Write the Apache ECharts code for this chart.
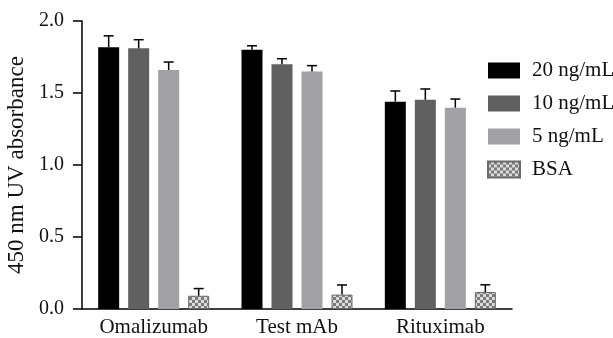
<!DOCTYPE html>
<html><head><meta charset="utf-8">
<script src="https://cdn.jsdelivr.net/npm/echarts@6/dist/echarts.min.js"></script>
<style>html,body{margin:0;padding:0;background:#fff}#c{width:613px;height:338px}</style>
</head><body><div id="c"></div>
<script>
var categories = ['Omalizumab', 'Test mAb', 'Rituximab'];
var seriesNames = ['20 ng/mL', '10 ng/mL', '5 ng/mL', 'BSA'];
var v20 = [1.817, 1.80, 1.44];
var v10 = [1.81, 1.70, 1.453];
var v5 = [1.66, 1.65, 1.398];
var vBSA = [0.092, 0.10, 0.118];
var e20 = [0.08, 0.028, 0.074];
var e10 = [0.06, 0.038, 0.075];
var e5 = [0.055, 0.04, 0.06];
var eBSA = [0.05, 0.067, 0.05];
var yTicks = [0, 0.5, 1.0, 1.5, 2.0];

var values = [v20, v10, v5, vBSA];
var errors = [e20, e10, e5, eBSA];

var pc = document.createElement('canvas');
pc.width = 6; pc.height = 6;
var ctx = pc.getContext('2d');
ctx.fillStyle = '#dcdcdc'; ctx.fillRect(0,0,6,6);
ctx.fillStyle = '#7a7a7a'; ctx.fillRect(0,0,3,3); ctx.fillRect(3,3,3,3);

var colors = ['#000000', '#606060', '#a2a2a6', {image: pc, repeat: 'repeat'}];
var FONT = '"Liberation Serif", "DejaVu Serif", serif';
var BW = 21, GAP = 9;

var chart = echarts.init(document.getElementById('c'));
var series = [];
values.forEach(function (vals, i) {
  series.push({
    name: seriesNames[i], type: 'bar', data: vals,
    barWidth: BW, barGap: (GAP / BW * 100) + '%',
    itemStyle: {color: colors[i], borderColor: i === 3 ? '#6a6a6a' : 'transparent', borderWidth: i === 3 ? 1 : 0},
    z: 2
  });
});
values.forEach(function (vals, i) {
  var off = (i - 1.5) * (BW + GAP);
  series.push({
    type: 'custom', name: seriesNames[i] + ' err', z: 3,
    data: vals.map(function (v, k) { return [k, v, v + errors[i][k]]; }),
    renderItem: function (params, api) {
      var p0 = api.coord([api.value(0), api.value(1)]);
      var p1 = api.coord([api.value(0), api.value(2)]);
      var x = p0[0] + off;
      return {type: 'group', children: [
        {type: 'line', shape: {x1: x, y1: p0[1], x2: x, y2: p1[1]}, style: {stroke: '#000', lineWidth: 1.5}},
        {type: 'line', shape: {x1: x - 5, y1: p1[1], x2: x + 5, y2: p1[1]}, style: {stroke: '#000', lineWidth: 1.5}}
      ]};
    },
    encode: {x: 0, y: [1, 2]},
    silent: true
  });
});

chart.setOption({
  animation: false,
  textStyle: {fontFamily: FONT},
  grid: {left: 82, top: 21, right: 101, bottom: 29, containLabel: false, outerBoundsMode: 'none'},
  legend: {
    data: seriesNames, orient: 'vertical', left: 482, top: 55,
    itemWidth: 32, itemHeight: 16, itemGap: 12,
    textStyle: {fontFamily: FONT, fontSize: 21, color: '#111', padding: [0,0,0,7]},
    icon: 'rect'
  },
  xAxis: {
    type: 'category', data: categories,
    axisLine: {lineStyle: {color: '#000', width: 1.5}},
    axisTick: {alignWithLabel: true, length: 6, lineStyle: {color: '#000', width: 1.5}},
    axisLabel: {fontFamily: FONT, fontSize: 21, color: '#111', margin: 8}
  },
  yAxis: {
    type: 'value', min: 0, max: 2, interval: 0.5,
    name: '450 nm UV absorbance', nameLocation: 'middle', nameGap: 48,
    nameTextStyle: {fontFamily: FONT, fontSize: 23, color: '#111'},
    axisLine: {show: true, lineStyle: {color: '#000', width: 1.5}},
    axisTick: {show: true, length: 9, lineStyle: {color: '#000', width: 1.5}},
    axisLabel: {fontFamily: FONT, fontSize: 20, color: '#111', margin: 18,
      formatter: function (v) { return yTicks.indexOf(v) >= 0 ? v.toFixed(1) : ''; }},
    splitLine: {show: false}
  },
  series: series
});
</script></body></html>
